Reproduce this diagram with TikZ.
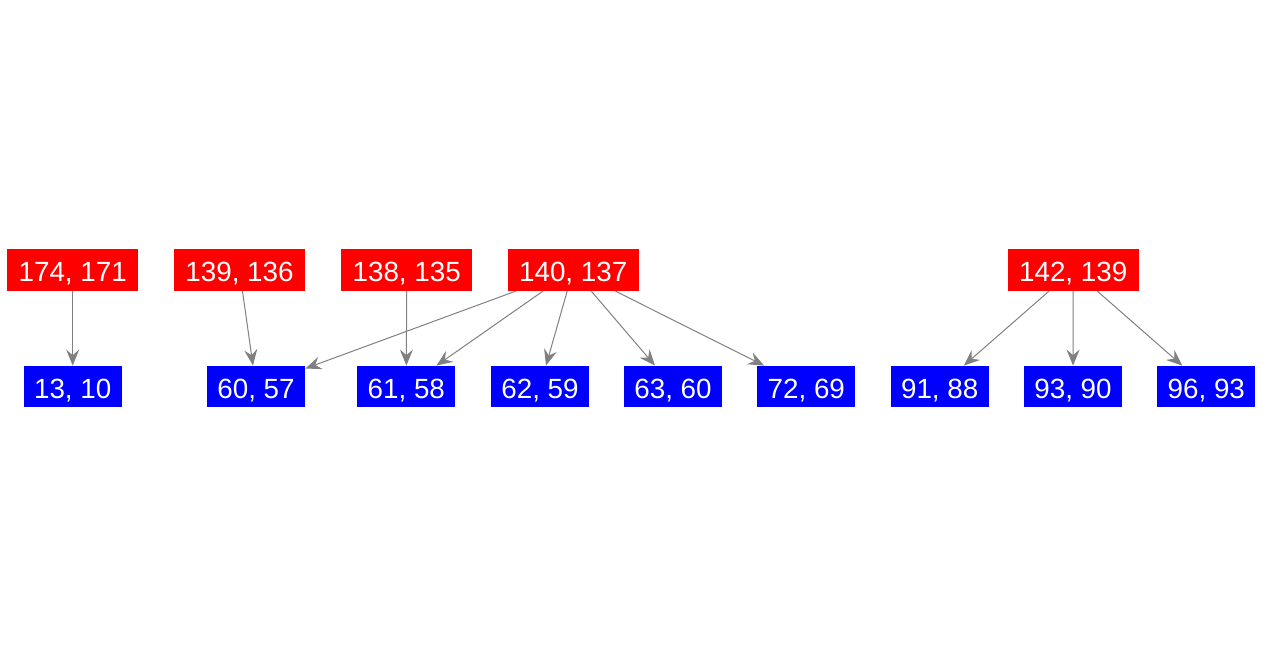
\documentclass[tikz,border=0pt]{standalone}
\usepackage{fontspec}
\setmainfont{Liberation Sans}
\usetikzlibrary{arrows.meta}

\begin{document}
\begin{tikzpicture}[x=0.5pt,y=-0.5pt,
  src/.style={fill=red,text=white,minimum width=65.5pt,minimum height=20.7pt,inner sep=0pt,
    text height=11.6pt,text depth=0pt,font=\fontsize{13.9}{16}\selectfont},
  dst/.style={src,fill=blue,minimum width=49pt},
  e/.style={draw=black!50,line width=0.5pt,-{Stealth[length=8pt,width=6.5pt,inset=2.8pt]}}]
  \useasboundingbox (0,0) rectangle (1263,656);
  % top row (red)
  \foreach \n/\x/\t in {r174/72.7/{174, 171}, r139/239.5/{139, 136}, r138/406.7/{138, 135},
                        r140/573.2/{140, 137}, r142/1073.2/{142, 139}}
    \node[src] (\n) at (\x,270) {\t};
  % bottom row (blue)
  \foreach \n/\x/\t in {b13/72.7/{13, 10}, b60/256/{60, 57}, b61/406.3/{61, 58}, b62/540/{62, 59},
                        b63/673/{63, 60}, b72/806.3/{72, 69}, b91/939.7/{91, 88}, b93/1073/{93, 90},
                        b96/1206.3/{96, 93}}
    \node[dst] (\n) at (\x,386.7) {\t};
  \foreach \s/\d in {r174/b13, r139/b60, r138/b61, r140/b60, r140/b61, r140/b62, r140/b63,
                     r140/b72, r142/b91, r142/b93, r142/b96}
    \draw[e] (\s) -- (\d);
\end{tikzpicture}
\end{document}
